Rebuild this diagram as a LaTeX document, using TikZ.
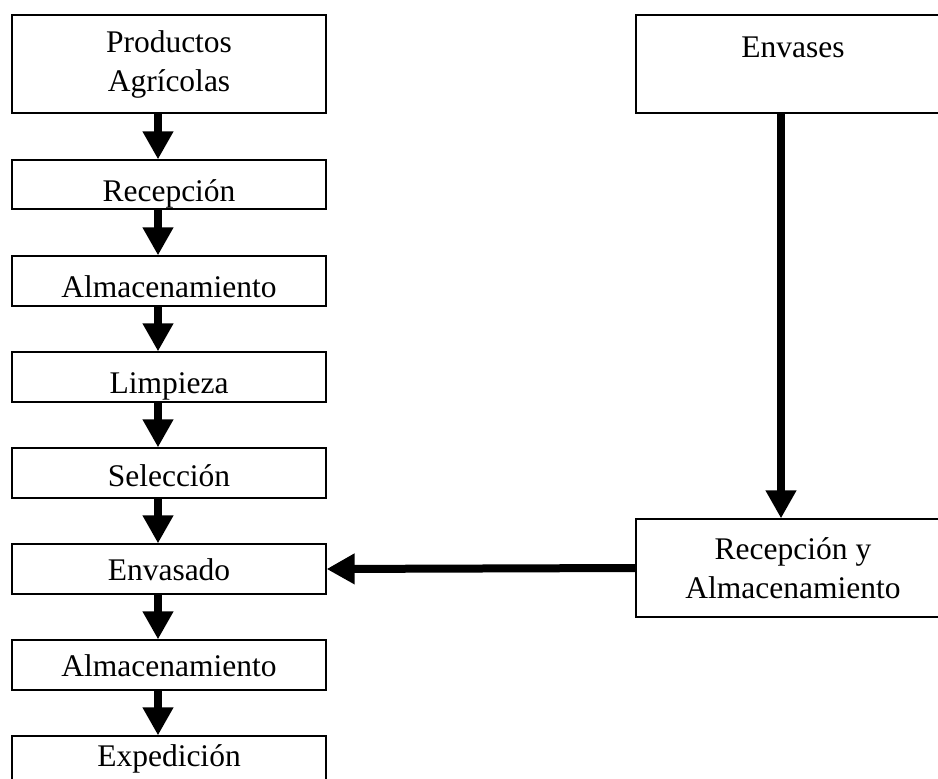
\documentclass[tikz,border=0pt]{standalone}
\usepackage{fontspec}
\setmainfont{Liberation Serif}
\usetikzlibrary{arrows.meta}
\begin{document}
\begin{tikzpicture}[x=1pt,y=-1pt,
  caja/.style={draw, line width=1.2pt, rectangle, minimum width=314pt, inner sep=0pt, font=\fontsize{31.5}{39}\selectfont},
  flecha/.style={line width=8pt, -{Triangle[width=29pt,length=28pt]}}]
\useasboundingbox (0,0) rectangle (938,779);
\clip (0,0) rectangle (938,779);
\coordinate (ejeL) at (158,0);
\coordinate (ejeR) at (781,0);
% left column
\node[caja, minimum height=98pt, align=center] (prod) at (169,64){Productos\\Agrícolas};
\node[caja, text height=41pt, text depth=8pt] (rec) at (169,184.5){Recepción};
\node[caja, text height=41pt, text depth=9pt] (alm1) at (169,281){Almacenamiento};
\node[caja, text height=41pt, text depth=9pt] (limp) at (169,377){Limpieza};
\node[caja, text height=38pt, text depth=12pt] (sel) at (169,473){Selección};
\node[caja, text height=36pt, text depth=14pt] (env) at (169,569){Envasado};
\node[caja, text height=36pt, text depth=14pt] (alm2) at (169,665){Almacenamiento};
\node[caja, text height=30pt, text depth=20pt] (exped) at (169,761){Expedición};
% right column
\node[caja, text height=42pt, text depth=56pt] (envases) at (793,64){Envases};
\node[caja, minimum height=98pt, align=center] (rya) at (793,568){Recepción y\\Almacenamiento};
\draw[flecha](prod.south -| ejeL) -- (rec.north -| ejeL);
\draw[flecha](rec.south -| ejeL) -- (alm1.north -| ejeL);
\draw[flecha](alm1.south -| ejeL) -- (limp.north -| ejeL);
\draw[flecha](limp.south -| ejeL) -- (sel.north -| ejeL);
\draw[flecha](sel.south -| ejeL) -- (env.north -| ejeL);
\draw[flecha](env.south -| ejeL) -- (alm2.north -| ejeL);
\draw[flecha](alm2.south -| ejeL) -- (exped.north -| ejeL);
\draw[flecha](envases.south -| ejeR) -- (rya.north -| ejeR);
\draw[flecha](rya.west) -- (env.east);
\end{tikzpicture}
\end{document}
